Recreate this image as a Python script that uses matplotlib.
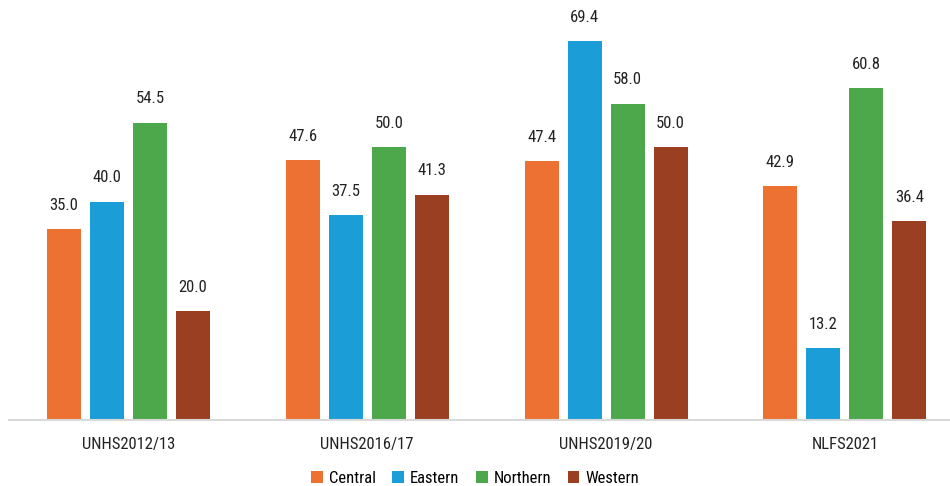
import matplotlib.pyplot as plt
import numpy as np

surveys = ["UNHS2012/13", "UNHS2016/17", "UNHS2019/20", "NLFS2021"]
regions = ["Central", "Eastern", "Northern", "Western"]
central = [35.0, 47.6, 47.4, 42.9]
eastern = [40.0, 37.5, 69.4, 13.2]
northern = [54.5, 50.0, 58.0, 60.8]
western = [20.0, 41.3, 50.0, 36.4]
colors = ["#ED7133", "#1B9DD7", "#4CA84A", "#9A3F22"]

plt.rcParams["font.family"] = ["Liberation Sans Narrow", "DejaVu Sans Condensed",
                               "Roboto Condensed", "Liberation Sans"]

fig = plt.figure(figsize=(9.5, 4.86), dpi=100)
ax = fig.add_axes([9 / 950, 66 / 486, 941 / 950, 420 / 486])

x = np.arange(len(surveys))
width = 0.142
step = 0.18
for i, (name, vals) in enumerate(zip(regions, [central, eastern, northern, western])):
    pos = x + (i - 1.5) * step
    bars = ax.bar(pos, vals, width, color=colors[i], label=name)
    for b, v in zip(bars, vals):
        ax.text(b.get_x() + b.get_width() / 2, v + 3.0, f"{v:.1f}",
                ha="center", va="bottom", fontsize=12, color="#222222")

ax.set_ylim(0, 77)
ax.set_xlim(-0.5, 3.44)
ax.set_xticks(x)
ax.set_xticklabels(surveys, fontsize=12, color="#222222")
ax.tick_params(axis="x", length=0, pad=12)
ax.set_yticks([])
for s in ["top", "right", "left"]:
    ax.spines[s].set_visible(False)
ax.spines["bottom"].set_color("#D9D9D9")
ax.spines["bottom"].set_linewidth(1.5)

fig.legend(loc="lower center", bbox_to_anchor=(0.5, -0.03), ncol=4, frameon=False,
           fontsize=12, handlelength=0.7, handleheight=0.7, handletextpad=0.35,
           columnspacing=1.0)

fig.savefig("out.png", dpi=100)
